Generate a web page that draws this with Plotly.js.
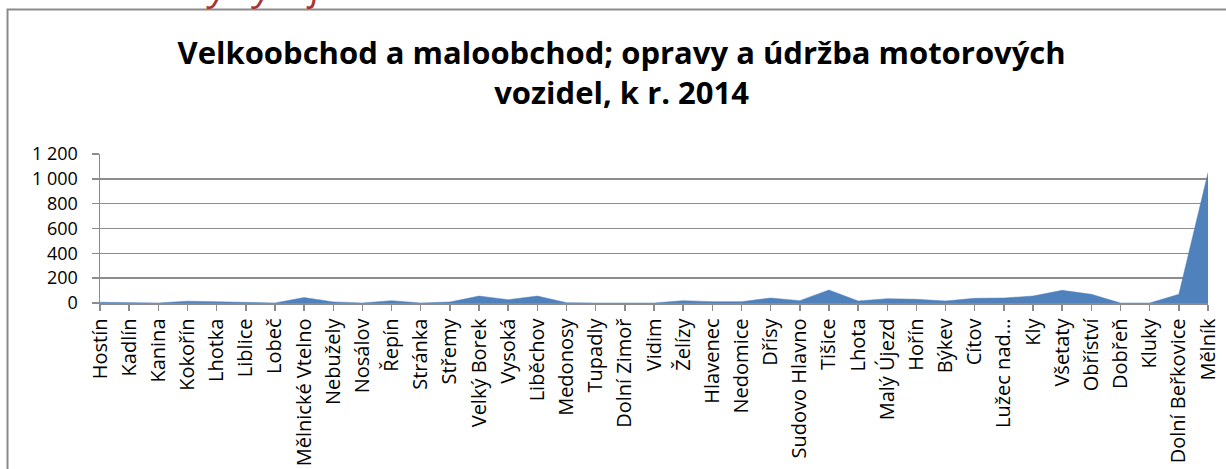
<!DOCTYPE html>
<html>
<head>
<meta charset="utf-8">
<script src="https://cdn.plot.ly/plotly-3.0.1.min.js"></script>
<style>
  html, body { margin: 0; padding: 0; background: #ffffff; }
  #chart { width: 1226px; height: 469px; }
</style>
</head>
<body>
<div id="chart"></div>
<script>
const categories = [
  "Hostín", "Kadlín", "Kanina", "Kokořín", "Lhotka", "Liblice", "Lobeč",
  "Mělnické Vtelno", "Nebužely", "Nosálov", "Řepín", "Stránka", "Střemy",
  "Velký Borek", "Vysoká", "Liběchov", "Medonosy", "Tupadly", "Dolní Zimoř",
  "Vidim", "Želízy", "Hlavenec", "Nedomice", "Dřísy", "Sudovo Hlavno",
  "Tišice", "Lhota", "Malý Újezd", "Hořín", "Býkev", "Cítov", "Lužec nad...",
  "Kly", "Všetaty", "Obříství", "Dobřeň", "Kluky", "Dolní Beřkovice", "Mělník"
];
const values = [
  6, 0, 0, 15, 11, 10, 0,
  44, 9, 0, 19, 0, 8,
  56, 27, 56, 3, 0, 0,
  0, 19, 11, 11, 40, 19,
  105, 16, 35, 30, 16, 38, 40,
  56, 102, 70, 0, 0, 70, 1049
];
const yTickValues = [0, 200, 400, 600, 800, 1000, 1200];
const titleText = "Velkoobchod a maloobchod; opravy a údržba motorových<br>vozidel, k r. 2014";
const headerText = "Historický vývoj";

const W = 1226, H = 469;
const L = 100, R = 18, T = 154, B = 166;
const pw = W - L - R, ph = H - T - B;
const px = v => (v - L) / pw;
const py = v => (H - B - v) / ph;

const trace = {
  type: "scatter",
  mode: "lines",
  x: categories,
  y: values,
  fill: "tozeroy",
  fillcolor: "#4f81bd",
  line: { color: "#4f81bd", width: 0.5, shape: "linear" },
  hoverinfo: "x+y"
};

const layout = {
  width: W, height: H,
  margin: { l: L, r: R, t: T, b: B, pad: 0 },
  paper_bgcolor: "#ffffff",
  plot_bgcolor: "#ffffff",
  showlegend: false,
  separators: ", ",
  font: { family: "Open Sans, DejaVu Sans, sans-serif", color: "#000000" },
  title: {
    text: titleText,
    font: { family: "Open Sans, sans-serif", size: 31, color: "#000000", weight: "bold" },
    x: 0.507, xanchor: "center",
    y: 1 - 64 / H, yanchor: "top", yref: "container"
  },
  xaxis: {
    type: "category",
    range: [0, categories.length - 1],
    tickangle: -90,
    tickfont: { size: 20, color: "#000000" },
    ticks: "outside", ticklen: 6, tickcolor: "#8c8c8c", tickwidth: 1.5,
    showline: true, linecolor: "#8c8c8c", linewidth: 1.5,
    showgrid: false, zeroline: false,
    fixedrange: true
  },
  yaxis: {
    range: [0, 1200],
    tickvals: yTickValues,
    tickformat: ",d",
    tickfont: { size: 18, color: "#000000" },
    ticks: "outside", ticklen: 7, tickcolor: "#8c8c8c", tickwidth: 1.5,
    showline: true, linecolor: "#8c8c8c", linewidth: 1.5,
    showgrid: true, gridcolor: "#8c8c8c", gridwidth: 1.5,
    zeroline: false,
    ticklabelstandoff: 10,
    fixedrange: true
  },
  shapes: [{
    type: "rect", xref: "paper", yref: "paper",
    x0: px(7.5), x1: px(1240), y0: py(480), y1: py(9.5),
    line: { color: "#8c8c8c", width: 2 }, fillcolor: "rgba(0,0,0,0)",
    layer: "below"
  }],
  annotations: [{
    text: headerText,
    xref: "paper", yref: "paper",
    x: px(62), y: py(3), xanchor: "left", yanchor: "bottom",
    yshift: -10,
    showarrow: false,
    font: { family: "Open Sans, sans-serif", size: 38, color: "#a83434", style: "italic" }
  }]
};

Plotly.newPlot("chart", [trace], layout, { displayModeBar: false, staticPlot: true });
</script>
</body>
</html>
